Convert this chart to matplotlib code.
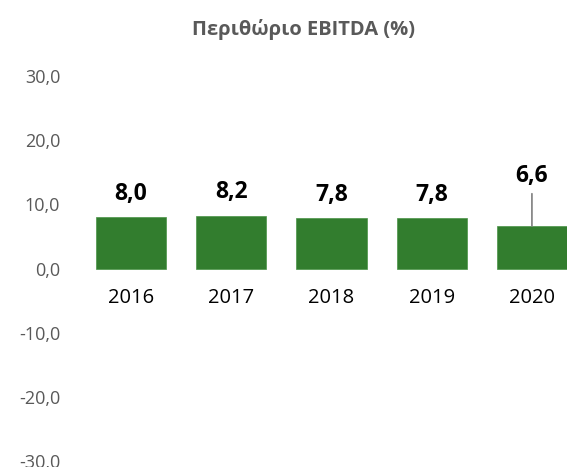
import matplotlib
matplotlib.use("Agg")
import matplotlib.pyplot as plt
from matplotlib.ticker import FuncFormatter

# data
years = ["2016", "2017", "2018", "2019", "2020"]
margin = [8.0, 8.2, 7.8, 7.8, 6.6]
label_offsets = [17, 17, 17, 17, 36]  # points above bar top

plt.rcParams['font.family'] = ['Open Sans', 'DejaVu Sans']

fig = plt.figure(figsize=(5.67, 4.67), dpi=100)
ax = fig.add_axes([81 / 567, 6 / 467, 1 - 81 / 567, (461 - 76) / 467])

x = list(range(len(years)))
ax.bar(x, margin, width=0.7, color='#327D2E', edgecolor='#4a9446', linewidth=0.5)

ax.set_ylim(-30, 30)
ax.set_xlim(-0.5, 4.35)
ax.set_yticks([-30, -20, -10, 0, 10, 20, 30])
ax.yaxis.set_major_formatter(FuncFormatter(lambda v, p: f"{v:.1f}".replace('.', ',')))
ax.tick_params(axis='y', length=0, pad=15, labelsize=13, labelcolor='#595959')
ax.set_xticks([])
for s in ax.spines.values():
    s.set_visible(False)

for i, v in enumerate(margin):
    # value labels
    if label_offsets[i] > 20:
        ax.annotate(f"{v:.1f}".replace('.', ','), (i, v), xytext=(0, label_offsets[i]),
                    textcoords='offset points', ha='center', va='center',
                    fontsize=16.5, fontweight='bold', color='black',
                    arrowprops=dict(arrowstyle='-', color='#7f7f7f', lw=1.2,
                                    shrinkA=2, shrinkB=0))
    else:
        ax.annotate(f"{v:.1f}".replace('.', ','), (i, v), xytext=(0, label_offsets[i]),
                    textcoords='offset points', ha='center', va='center',
                    fontsize=16.5, fontweight='bold', color='black')
    # category labels
    ax.annotate(years[i], (i, 0), xytext=(0, -21), textcoords='offset points',
                ha='center', va='center', fontsize=14.5, color='black')

fig.text(303 / 567, 1 - 30 / 467, "Περιθώριο EBITDA (%)", ha='center', va='center',
         fontsize=14.5, fontweight='bold', color='#595959')

fig.savefig("out.png", dpi=100)
